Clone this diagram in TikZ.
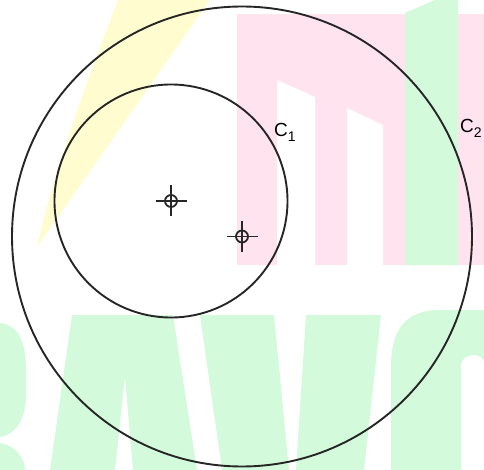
\documentclass[tikz,border=0pt]{standalone}
\usepackage{fontspec}
\setmainfont{Liberation Sans}
\definecolor{wmpink}{RGB}{255,228,240}
\definecolor{wmgreen}{RGB}{212,250,220}
\definecolor{wmyellow}{RGB}{255,253,208}
\tikzset{
  ring/.style={draw=black!85, line width=1.9pt},
  centermark/.style={draw=black!85, line width=1.8pt},
  lbl/.style={inner sep=0pt, anchor=base west, font=\fontsize{19}{21}\selectfont},
}
\newcommand{\mysub}[1]{\raisebox{-5pt}{\fontsize{14}{15}\selectfont #1}}
\begin{document}
\begin{tikzpicture}[x=1pt,y=-1pt]
\useasboundingbox (0,0) rectangle (484,470);
% watermark
\fill[wmyellow] (118,0) .. controls (95,60) and (55,165) .. (37,247) -- (210,0) -- cycle;
\fill[wmpink] (237,14) rectangle (406,265);
\fill[white] (277,80) -- (315,97) -- (315,265) -- (277,265) -- cycle;
\fill[white] (347,108) -- (383,125) -- (383,265) -- (347,265) -- cycle;
\fill[wmgreen] (405,13) -- (435,0) -- (458,0) -- (458,265) -- (405,265) -- cycle;
\fill[wmpink] (458,14) rectangle (484,265);
\fill[wmgreen] (0,323) .. controls (20,325) and (26,345) .. (26,370) -- (26,395) .. controls (26,420) and (15,435) .. (0,437) -- cycle;
\fill[wmgreen] (0,443) .. controls (15,445) and (25,458) .. (25,470) -- (0,470) -- cycle;
\fill[wmgreen] (72,315) -- (173,315) -- (197,470) -- (133,470) -- (125,377) -- (115,470) -- (50,470) -- cycle;
\fill[wmgreen] (200,315) -- (274,315) -- (289,470) -- (296,470) -- (306,315) -- (381,315) -- (364,470) -- (222,470) -- cycle;
\fill[wmgreen] (391,470) -- (391,367) .. controls (391,330) and (405,310) .. (440,310) -- (484,310) -- (484,470) -- cycle;
\fill[white] (461,470) -- (461,366) .. controls (461,359) and (467,355) .. (474,355) .. controls (480,355) and (484,359) .. (484,363) -- (484,470) -- cycle;
% geometry
\coordinate (o1) at (171,201);
\coordinate (o2) at (242,236.5);
\draw[ring] (o1) circle[radius=116.5];
\draw[ring] (o2) circle[radius=230];
\foreach \p in {o1,o2}{
  \draw[centermark] (\p) circle[radius=6];
  \draw[centermark] ([xshift=-15.5pt]\p) -- ([xshift=15.5pt]\p);
  \draw[centermark] ([yshift=-15.5pt]\p) -- ([yshift=15.5pt]\p);
}
\node[lbl] (l1) at (274,137) {C\mysub{1}};
\node[lbl] (l2) at (460,133) {C\mysub{2}};
\end{tikzpicture}
\end{document}
